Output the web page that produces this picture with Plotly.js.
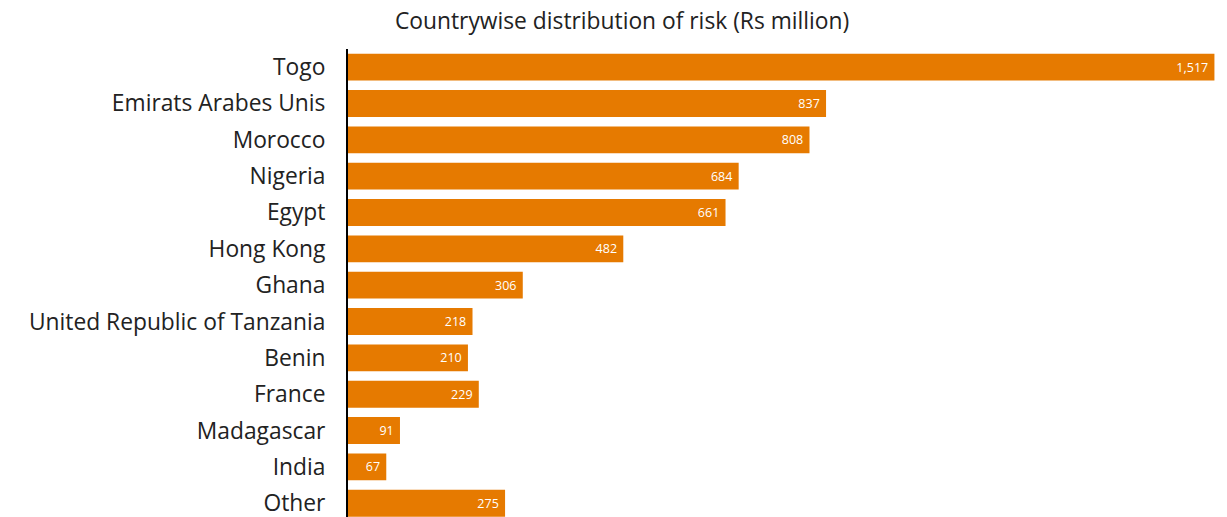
<!DOCTYPE html>
<html><head><meta charset="utf-8">
<script src="https://cdn.plot.ly/plotly-3.0.1.min.js"></script>
<style>html,body{margin:0;padding:0;background:#fff;}#chart{width:1227px;height:517px;}</style>
</head><body><div id="chart"></div>
<script>
const countries = ["Togo","Emirats Arabes Unis","Morocco","Nigeria","Egypt","Hong Kong","Ghana","United Republic of Tanzania","Benin","France","Madagascar","India","Other"];
const risk = [1517,837,808,684,661,482,306,218,210,229,91,67,275];
const titleText = "Countrywise distribution of risk (Rs million)";

const trace = {
  type: "bar", orientation: "h",
  y: countries, x: risk,
  marker: {color: "#E67A00"},
  texttemplate: "%{x:,}\u00a0", textposition: "inside", insidetextanchor: "end",
  textfont: {color: "#ffffff", size: 12.5, family: "'Open Sans', sans-serif"},
  hoverinfo: "none", width: 0.74
};
const layout = {
  width: 1227, height: 517,
  margin: {l: 348, r: 0, t: 49, b: 0},
  paper_bgcolor: "#fff", plot_bgcolor: "#fff",
  title: {text: titleText, x: 0.507, xref: "container", xanchor: "center", y: 0.96, yref: "container", yanchor: "middle",
          font: {family: "'Open Sans', sans-serif", size: 22.8, color: "#222"}},
  xaxis: {range: [0, 1539], visible: false, showgrid: false, zeroline: false},
  yaxis: {type: "category", range: [12.38, -0.5], showline: true, linecolor: "#000", linewidth: 2,
          showgrid: false, zeroline: false, ticks: "", ticklabelstandoff: 16,
          tickfont: {family: "'Open Sans', sans-serif", size: 22.8, color: "#222"}},
  showlegend: false
};
Plotly.newPlot("chart", [trace], layout, {staticPlot: true, displayModeBar: false});
</script></body></html>
